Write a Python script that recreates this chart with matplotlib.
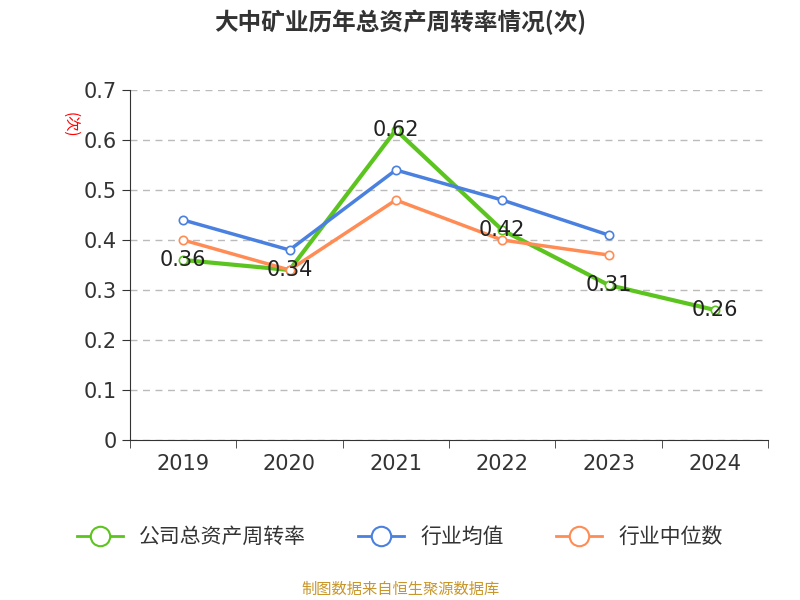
import matplotlib
matplotlib.use("Agg")
import matplotlib.pyplot as plt
from matplotlib.lines import Line2D
from matplotlib import font_manager as fm

cands = ["Noto Sans CJK SC", "Noto Sans CJK JP", "Noto Sans CJK TC", "Noto Sans CJK KR"]
names = {f.name for f in fm.fontManager.ttflist}
cjk = None
for c in cands:
    if c in names:
        cjk = c
        break
if cjk is None:
    for f in fm.findSystemFonts():
        if "CJK" in f or "cjk" in f:
            fm.fontManager.addfont(f)
    names = {f.name for f in fm.fontManager.ttflist}
    cjk = next((n for n in names if "CJK" in n), "DejaVu Sans")
plt.rcParams["font.family"] = ["DejaVu Sans", cjk]

years = ["2019", "2020", "2021", "2022", "2023", "2024"]
company = [0.36, 0.34, 0.62, 0.42, 0.31, 0.26]
ind_avg = [0.44, 0.38, 0.54, 0.48, 0.41]
ind_med = [0.40, 0.34, 0.48, 0.40, 0.37]
yticks = [0, 0.1, 0.2, 0.3, 0.4, 0.5, 0.6, 0.7]

green, blue, orange = "#5bc41f", "#4a80e0", "#ff8c55"

fig = plt.figure(figsize=(8, 6), dpi=100)
ax = fig.add_axes([130/800, 1-440/600, 638/800, 350/600])
x = list(range(len(years)))
ax.plot(x, company, color=green, lw=3, marker="o", ms=6, mfc="white", mec=green, mew=1.2, zorder=3)
ax.plot(x[:5], ind_avg, color=blue, lw=2.5, marker="o", ms=6, mfc="white", mec=blue, mew=1.2, zorder=4)
ax.plot(x[:5], ind_med, color=orange, lw=2.5, marker="o", ms=6, mfc="white", mec=orange, mew=1.2, zorder=4)
for i, v in enumerate(company):
    ax.text(i, v, f"{v:.2f}", ha="center", va="center", fontsize=15, color="#222", zorder=5)

ax.set_xlim(-0.5, 5.5)
ax.set_ylim(0, 0.7)
ax.set_yticks(yticks)
ax.set_yticklabels(["0" if t == 0 else f"{t:.1f}" for t in yticks], fontsize=15, color="#333")
ax.set_xticks(x)
ax.set_xticklabels(years, fontsize=15, color="#333")
ax.set_xticks([i - 0.5 for i in range(7)], minor=True)
ax.tick_params(axis="x", which="major", length=0, pad=10)
ax.tick_params(axis="x", which="minor", length=6, color="#333")
ax.tick_params(axis="y", length=6, color="#333")
ax.grid(axis="y", ls=(0, (5, 4)), color="#bbb", lw=1)
for s in ["top", "right"]:
    ax.spines[s].set_visible(False)
ax.spines["left"].set_color("#333")
ax.spines["bottom"].set_color("#333")

fig.text(0.5, 1-22/600, "大中矿业历年总资产周转率情况(次)", ha="center", va="center", fontsize=17, fontweight="bold", color="#333", family=cjk)
fig.text(70/800, 1-125/600, "(次)", rotation=270, ha="center", va="center", fontsize=11, color="red", family=cjk)

handles = [Line2D([], [], color=c, lw=2, marker="o", ms=14, mfc="white", mec=c, mew=1.5) for c in (green, blue, orange)]
fig.legend(handles, ["公司总资产周转率", "行业均值", "行业中位数"], loc="center", bbox_to_anchor=(0.5, 1-537/600),
           ncol=3, frameon=False, prop={"family": cjk, "size": 15}, handlelength=2.2, columnspacing=2.5, labelcolor="#333")
fig.text(0.5, 1-589/600, "制图数据来自恒生聚源数据库", ha="center", va="center", fontsize=11, color="#c8962a", family=cjk)
fig.savefig("out.png")
